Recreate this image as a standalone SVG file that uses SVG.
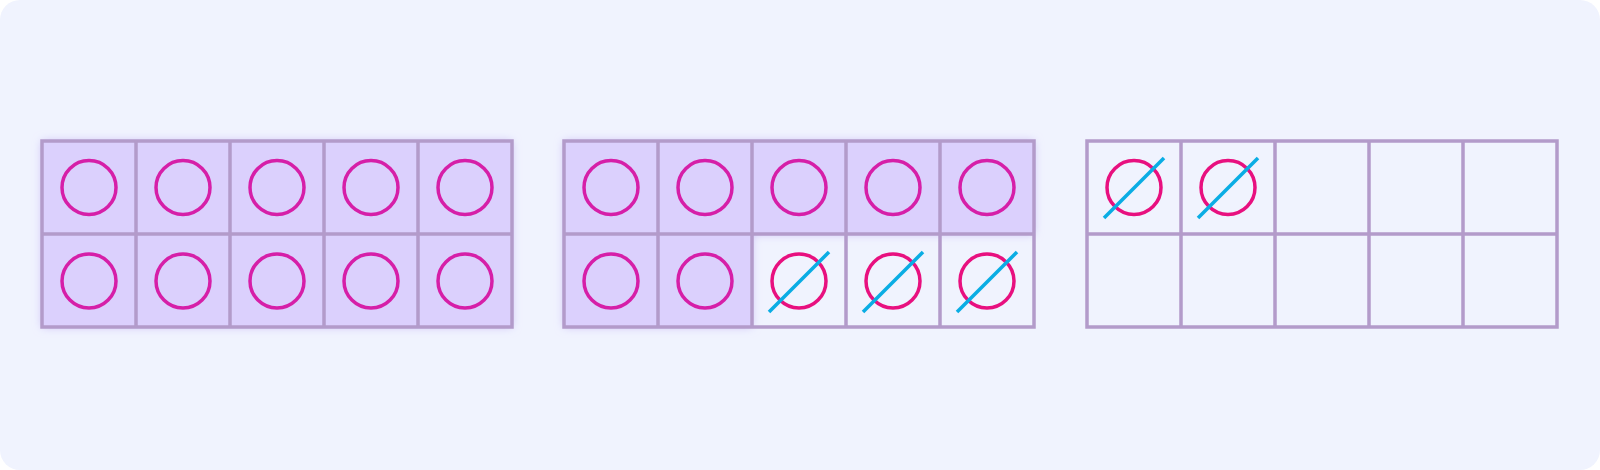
<svg xmlns="http://www.w3.org/2000/svg" width="1600" height="470" viewBox="0 0 1600 470">
<defs>
<filter id="glow" x="-30%" y="-30%" width="160%" height="160%">
<feGaussianBlur in="SourceAlpha" stdDeviation="5" result="b"/>
<feFlood flood-color="#c7b6f6" flood-opacity="0.9"/>
<feComposite in2="b" operator="in" result="s"/>
<feMerge><feMergeNode in="s"/><feMergeNode in="SourceGraphic"/></feMerge>
</filter>
</defs>
<style>
.fill{fill:#dbd0fd;filter:url(#glow)}
.grid{fill:none;stroke:#b39bca;stroke-width:3.5}
.c{fill:none;stroke:#d61fa8;stroke-width:3.5}
.cx{fill:none;stroke:#e8107f;stroke-width:3.5}
.x{stroke:#0aade4;stroke-width:3.5}
</style>
<rect x="0" y="0" width="1600" height="470" fill="#ffffff"/>
<rect x="0" y="0" width="1600" height="470" rx="20" fill="#f0f3fe"/>

<g id="frame1">
<g class="fill">
<rect x="42" y="141" width="470" height="186"/>
</g>
<rect class="grid" x="42" y="141" width="470" height="186"/>
<path class="grid" d="M136 141V327M230 141V327M324 141V327M418 141V327M42 234H512"/>
<circle class="c" cx="89" cy="187.5" r="27"/>
<circle class="c" cx="183" cy="187.5" r="27"/>
<circle class="c" cx="277" cy="187.5" r="27"/>
<circle class="c" cx="371" cy="187.5" r="27"/>
<circle class="c" cx="465" cy="187.5" r="27"/>
<circle class="c" cx="89" cy="281" r="27"/>
<circle class="c" cx="183" cy="281" r="27"/>
<circle class="c" cx="277" cy="281" r="27"/>
<circle class="c" cx="371" cy="281" r="27"/>
<circle class="c" cx="465" cy="281" r="27"/>
</g>

<g id="frame2">
<g class="fill">
<path d="M564 141H1034V234H752V327H564Z"/>
</g>
<rect class="grid" x="564" y="141" width="470" height="186"/>
<path class="grid" d="M658 141V327M752 141V327M846 141V327M940 141V327M564 234H1034"/>
<circle class="c" cx="611" cy="187.5" r="27"/>
<circle class="c" cx="705" cy="187.5" r="27"/>
<circle class="c" cx="799" cy="187.5" r="27"/>
<circle class="c" cx="893" cy="187.5" r="27"/>
<circle class="c" cx="987" cy="187.5" r="27"/>
<circle class="c" cx="611" cy="281" r="27"/>
<circle class="c" cx="705" cy="281" r="27"/>
<circle class="cx" cx="799" cy="281" r="27"/>
<circle class="cx" cx="893" cy="281" r="27"/>
<circle class="cx" cx="987" cy="281" r="27"/>
<line class="x" x1="769" y1="312" x2="829" y2="252"/>
<line class="x" x1="863" y1="312" x2="923" y2="252"/>
<line class="x" x1="957" y1="312" x2="1017" y2="252"/>
</g>

<g id="frame3">
<rect class="grid" x="1087" y="141" width="470" height="186"/>
<path class="grid" d="M1181 141V327M1275 141V327M1369 141V327M1463 141V327M1087 234H1557"/>
<circle class="cx" cx="1134" cy="187.5" r="27"/>
<circle class="cx" cx="1228" cy="187.5" r="27"/>
<line class="x" x1="1104" y1="218" x2="1164" y2="158"/>
<line class="x" x1="1198" y1="218" x2="1258" y2="158"/>
</g>
</svg>
